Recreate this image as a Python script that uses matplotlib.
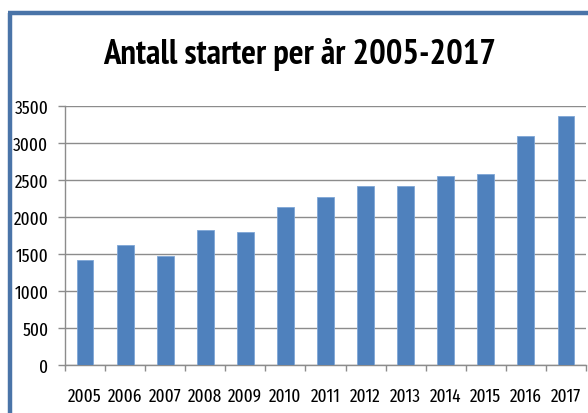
import matplotlib
matplotlib.use("Agg")
import matplotlib.pyplot as plt
from matplotlib.lines import Line2D

years = ["2005", "2006", "2007", "2008", "2009", "2010", "2011",
         "2012", "2013", "2014", "2015", "2016", "2017"]
starts = [1420, 1620, 1470, 1820, 1800, 2140, 2270,
          2420, 2420, 2560, 2580, 3100, 3370]
yticks = [0, 500, 1000, 1500, 2000, 2500, 3000, 3500]
title = "Antall starter per år 2005-2017"

TICK_FONT = ["Fira Sans Extra Condensed", "DejaVu Sans"]
TITLE_FONT = ["PT Sans Narrow", "DejaVu Sans"]
plt.rcParams["font.family"] = TICK_FONT

W, H = 588, 414
fig = plt.figure(figsize=(W / 100, H / 100), dpi=100)
fig.patch.set_facecolor("white")

ax = fig.add_axes([65 / W, 1 - 366 / H, (586 - 65) / W, (366 - 107) / H])
x = list(range(len(years)))
ax.bar(x, starts, width=0.42, color="#4F81BD", edgecolor="#7FA6D6", linewidth=0.6, zorder=3)
ax.set_xlim(-0.5, len(years) - 0.5)
ax.set_ylim(0, 3500)
ax.set_yticks(yticks)
ax.set_yticklabels([str(v) for v in yticks], fontsize=13.5)
ax.yaxis.grid(True, color="#8C8C8C", linewidth=1.0, zorder=0)
ax.set_xticks(x)
ax.set_xticklabels(years, fontsize=13.5)
ax.set_xticks([i - 0.5 for i in range(len(years) + 1)], minor=True)
ax.tick_params(axis="x", which="major", length=0, pad=16)
ax.tick_params(axis="x", which="minor", length=4.5, color="#8C8C8C", width=1.0)
ax.tick_params(axis="y", length=5, color="#8C8C8C", width=1.0, pad=7)
for s in ["top", "right"]:
    ax.spines[s].set_visible(False)
for s in ["left", "bottom"]:
    ax.spines[s].set_color("#8C8C8C")
    ax.spines[s].set_linewidth(1.0)

fig.text(300 / W, 1 - 64 / H, title, ha="center", va="baseline",
         fontsize=25, fontweight="bold", color="black", family=TITLE_FONT)

# frame border
fig.add_artist(Line2D([10 / W, 10 / W], [0, 1 - 14 / H], transform=fig.transFigure,
                      color="#4A74A8", linewidth=3.2, solid_capstyle="butt"))
fig.add_artist(Line2D([8.4 / W, 1], [1 - 14 / H, 1 - 14 / H], transform=fig.transFigure,
                      color="#4A74A8", linewidth=3.2, solid_capstyle="butt"))

fig.savefig("out.png", dpi=100, facecolor="white")
